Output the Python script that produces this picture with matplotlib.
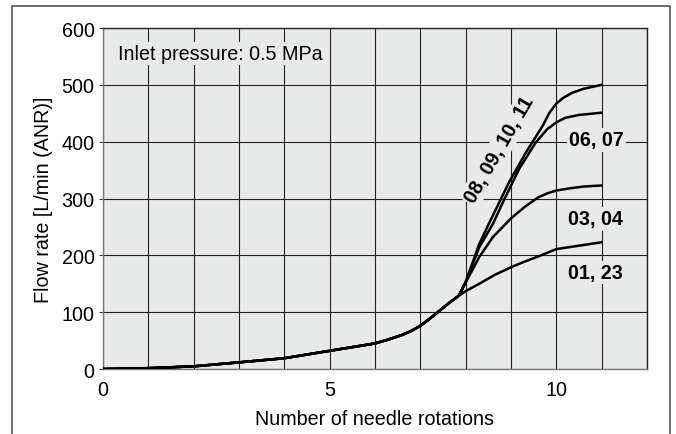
import numpy as np
import matplotlib.pyplot as plt
from matplotlib.lines import Line2D

plt.rcParams['font.family'] = ['Liberation Sans', 'DejaVu Sans']

# Data
base_x = [0, 1, 2, 3, 4, 5, 6, 6.3, 6.6, 6.8, 7, 7.2, 7.4, 7.6, 7.85]
base_y = [0, 1.5, 4.7, 11.7, 19, 32, 45, 52, 60, 67, 76, 88, 101, 114, 129]

x_0123 = [8, 8.3, 8.65, 9, 9.3, 9.6, 10, 10.5, 11]
y_0123 = [137, 150, 166, 179, 189, 198, 211, 217, 223]

x_0304 = [8, 8.3, 8.6, 9, 9.3, 9.6, 9.8, 10, 10.3, 10.6, 11]
y_0304 = [152, 197, 232, 265, 285, 302, 309, 314, 318, 321, 323]

x_0607 = [8, 8.3, 8.6, 8.82, 9.18, 9.55, 9.8, 10, 10.2, 10.5, 11]
y_0607 = [153, 214, 255, 293, 352, 399, 422, 434, 442, 447, 451]

x_0811 = [8, 8.3, 8.6, 8.96, 9.33, 9.7, 9.85, 10, 10.15, 10.35, 10.6, 11]
y_0811 = [153, 220, 270, 329, 381, 428, 451, 467, 477, 486, 493, 500]

series = [
    ('01, 23', x_0123, y_0123),
    ('03, 04', x_0304, y_0304),
    ('06, 07', x_0607, y_0607),
    ('08, 09, 10, 11', x_0811, y_0811),
]

bg = '#e8e9e9'
fs = 14.2

fig = plt.figure(figsize=(6.76, 4.35), dpi=100)
ax = fig.add_axes([0.1524, 0.1494, 0.8046, 0.7839])
ax.set_facecolor(bg)

for name, xs, ys in series:
    ax.plot(base_x + xs, base_y + ys, color='black', lw=1.8, solid_joinstyle='round', zorder=3)

ax.set_xlim(0, 12)
ax.set_ylim(0, 600)
ax.set_xticks([0, 5, 10])
ax.set_xticks(np.arange(0, 13, 1), minor=True)
ax.set_yticks(np.arange(0, 601, 100))
ax.grid(True, which='both', axis='x', color='#222222', lw=0.8)
ax.grid(True, which='major', axis='y', color='#222222', lw=0.8)
ax.tick_params(axis='x', which='both', length=0, labelsize=fs, pad=8)
ax.tick_params(axis='y', length=3, width=0.8, labelsize=fs, pad=3, color='#333333')

for side in ['left', 'bottom']:
    ax.spines[side].set_color('#777777')
for side in ['top', 'right']:
    ax.spines[side].set_color('#222222')
for s in ax.spines.values():
    s.set_linewidth(1.0)

ax.set_xlabel('Number of needle rotations', fontsize=fs, labelpad=7)
ax.set_ylabel('Flow rate [L/min (ANR)]', fontsize=fs, labelpad=6)

box = dict(facecolor=bg, edgecolor='none', pad=1.5)
ax.text(0.33, 555, 'Inlet pressure: 0.5 MPa', fontsize=fs, ha='left', va='center', bbox=box, zorder=4)
ax.text(10.86, 170, '01, 23', fontsize=fs, fontweight='bold', ha='center', va='center', bbox=box, zorder=4)
ax.text(10.86, 264, '03, 04', fontsize=fs, fontweight='bold', ha='center', va='center', bbox=box, zorder=4)
ax.text(10.88, 403, '06, 07', fontsize=fs, fontweight='bold', ha='center', va='center', bbox=box, zorder=4)
ax.text(8.74, 387, '08, 09, 10, 11', fontsize=fs, fontweight='bold', ha='center', va='center',
        rotation=60, rotation_mode='anchor', bbox=box, zorder=4)

# outer frame
x0, x1, yt = 12 / 676, 670 / 676, 1 - 7 / 435
fig.add_artist(Line2D([x0, x0, x1, x1], [0, yt, yt, 0], color='#555555', lw=1.2, transform=fig.transFigure))

plt.savefig('out.png', dpi=100)
